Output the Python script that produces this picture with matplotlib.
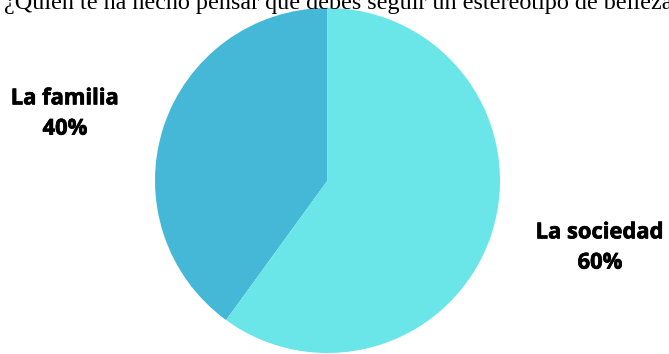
import matplotlib
matplotlib.use("Agg")
import matplotlib.pyplot as plt
import matplotlib.patheffects as pe

title = "¿Quién te ha hecho pensar que debes seguir un estereotipo de belleza?"
categories = ["La familia", "La sociedad"]
values = [40, 60]
colors = ["#44B8D6", "#6AE5E8"]

W, H = 669, 354
fig = plt.figure(figsize=(W / 100, H / 100), dpi=100)
ax = fig.add_axes([0, 0, 1, 1])
ax.set_xlim(0, W)
ax.set_ylim(0, H)
ax.axis("off")

ax.pie(values, colors=colors, startangle=90, counterclock=True,
       center=(327.5, H - 180.5), radius=172.5,
       wedgeprops=dict(linewidth=0))
ax.set_xlim(0, W)
ax.set_ylim(0, H)
ax.set_aspect("auto")

ax.text(4, H - 9, title, ha="left", va="baseline", fontsize=17.35,
        family="Liberation Serif", color="black")

lab_pos = [(65, 114), (600, 248)]
for (x, y), c, v in zip(lab_pos, categories, values):
    ax.text(x, H - y, f"{c}\n{v}%", ha="center", va="center", fontsize=15.8,
            family="Open Sans", fontweight="bold", linespacing=1.58,
            path_effects=[pe.withStroke(linewidth=0.5, foreground="black")])

fig.savefig("out.png", dpi=100)
